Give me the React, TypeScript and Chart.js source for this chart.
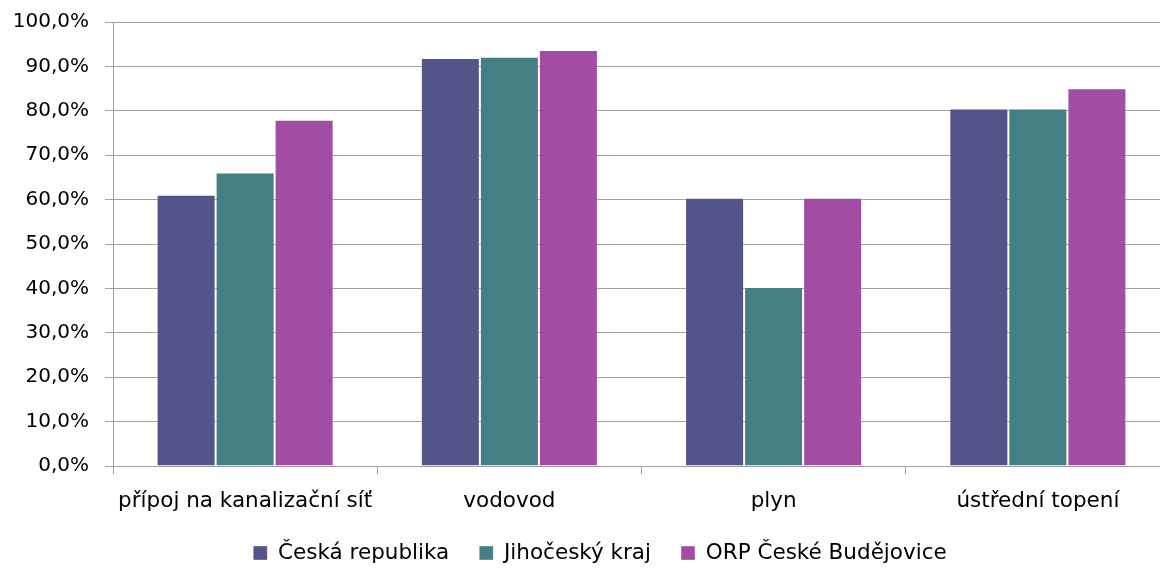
import React, { useEffect, useRef } from "react";
import { Chart, registerables } from "chart.js";

Chart.register(...registerables);

const categories = ["přípoj na kanalizační síť", "vodovod", "plyn", "ústřední topení"];
const seriesNames = ["Česká republika", "Jihočeský kraj", "ORP České Budějovice"];
const ceskaRepublika = [61.1, 91.9, 60.4, 80.5];
const jihoceskyKraj = [66.1, 92.2, 40.3, 80.5];
const orpCeskeBudejovice = [78.0, 93.7, 60.4, 85.1];
const seriesColors = ["#535487", "#437F83", "#A04DA3"];

const FONT = "'DejaVu Sans', sans-serif";
const LEGEND_PAD = 30;
const LEGEND_FONT = 21.5;

const legendPlacer = {
  id: "legendPlacer",
  afterLayout(chart: any) {
    const lg = chart.legend;
    if (!lg) return;
    lg.top = 553 - LEGEND_PAD - LEGEND_FONT / 2;
    lg.bottom = chart.height;
    lg.height = lg.bottom - lg.top;
    lg.left += 15;
    lg.right += 15;
  },
};

export default function App() {
  const ref = useRef<HTMLCanvasElement | null>(null);

  useEffect(() => {
    if (!ref.current) return;
    const values = [ceskaRepublika, jihoceskyKraj, orpCeskeBudejovice];
    const chart = new Chart(ref.current, {
      type: "bar",
      data: {
        labels: categories,
        datasets: seriesNames.map((name, i) => ({
          label: name,
          data: values[i],
          backgroundColor: seriesColors[i],
          borderColor: "rgba(255,255,255,0.35)",
          borderWidth: 1,
          categoryPercentage: 0.67,
          barPercentage: 1.0,
        })),
      },
      plugins: [legendPlacer],
      options: {
        responsive: false,
        animation: false,
        devicePixelRatio: 1,
        layout: { padding: { left: 0, right: 10, top: 22, bottom: 0 } },
        plugins: {
          tooltip: { enabled: false },
          legend: {
            position: "bottom",
            maxHeight: 10,
            labels: {
              boxWidth: 14,
              boxHeight: 14,
              padding: LEGEND_PAD,
              color: "#000",
              font: { family: FONT, size: LEGEND_FONT },
            },
          },
        },
        scales: {
          x: {
            afterFit: (s: any) => {
              s.height = 92;
            },
            grid: {
              offset: true,
              drawOnChartArea: false,
              drawTicks: true,
              tickLength: 8,
              color: "#A0A0A0",
            },
            border: { display: true, color: "#A0A0A0" },
            ticks: {
              padding: 15,
              color: "#000",
              maxRotation: 0,
              autoSkip: false,
              font: { family: FONT, size: 21.5 },
            },
          },
          y: {
            min: 0,
            max: 100,
            afterFit: (s: any) => {
              s.width = 113;
              s.paddingTop = 0;
              s.paddingBottom = 0;
            },
            grid: {
              color: "#A0A0A0",
              drawTicks: true,
              tickLength: 8,
            },
            border: { display: true, color: "#A0A0A0" },
            ticks: {
              stepSize: 10,
              padding: 16,
              color: "#000",
              font: { family: FONT, size: 20 },
              callback: (v: any) => Number(v).toFixed(1).replace(".", ",") + "%",
            },
          },
        },
      },
    });
    return () => chart.destroy();
  }, []);

  return (
    <div
      style={{
        position: "fixed",
        left: 0,
        top: 0,
        width: 1160,
        height: 568,
        overflow: "hidden",
        background: "#fff",
      }}
    >
      <canvas ref={ref} width={1180} height={568} style={{ display: "block", width: 1180, height: 568 }} />
    </div>
  );
}
